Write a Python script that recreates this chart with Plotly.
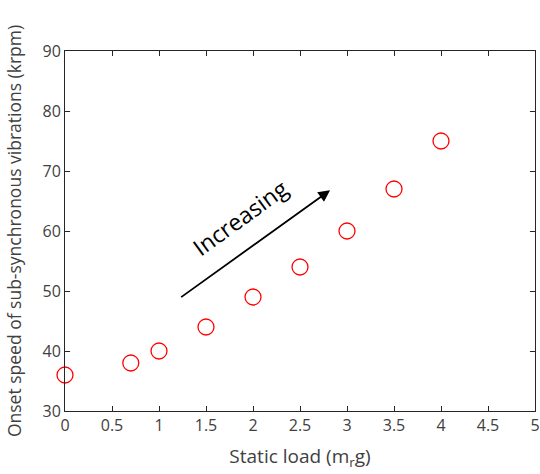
import plotly.graph_objects as go

static_load = [0, 0.7, 1, 1.5, 2, 2.5, 3, 3.5, 4]
onset_speed = [36, 38, 40, 44, 49, 54, 60, 67, 75]
x_ticks = [0, 0.5, 1, 1.5, 2, 2.5, 3, 3.5, 4, 4.5, 5]
x_tick_labels = ["0", "0.5", "1", "1.5", "2", "2.5", "3", "3.5", "4", "4.5", "5"]
y_ticks = [30, 40, 50, 60, 70, 80, 90]

font = "Open Sans, Segoe UI, sans-serif"
axcol = "#262626"
tickcol = "#404040"

fig = go.Figure()
fig.add_trace(go.Scatter(
    x=static_load, y=onset_speed, mode="markers",
    marker=dict(symbol="circle-open", size=16, color="#ff0000", line=dict(width=1.3, color="#ff0000")),
    showlegend=False, cliponaxis=False,
))

fig.add_annotation(x=2.82, y=66.8, ax=1.22, ay=48.8, xref="x", yref="y", axref="x", ayref="y",
                   showarrow=True, arrowhead=2, arrowsize=1.3, arrowwidth=1.8, arrowcolor="black", text="")
fig.add_annotation(x=1.87, y=62.3, xref="x", yref="y", text="Increasing", showarrow=False,
                   textangle=-36, font=dict(family=font, size=23, color="black"))

axis_common = dict(showgrid=False, zeroline=False, showline=True, linecolor=axcol, linewidth=1,
                   mirror="ticks", ticks="inside", ticklen=5, tickcolor=axcol, automargin=False,
                   tickfont=dict(family=font, size=16, color=tickcol))
fig.update_xaxes(range=[0, 5], tickvals=x_ticks, ticktext=x_tick_labels,
                 title=dict(text="Static load (m<sub>r</sub>g)", font=dict(family=font, size=19, color=tickcol), standoff=14),
                 **axis_common)
fig.update_yaxes(range=[30, 90], tickvals=y_ticks,
                 title=dict(text="Onset speed of sub-synchronous vibrations (krpm)", font=dict(family=font, size=17.5, color=tickcol), standoff=16),
                 **axis_common)

fig.update_layout(width=540, height=474, margin=dict(l=65, r=5, t=51, b=63),
                  plot_bgcolor="white", paper_bgcolor="white", font=dict(family=font))
fig.write_html("out.html", config={"displayModeBar": False},
               post_script="document.body.style.margin='0';document.body.style.overflow='hidden';")
